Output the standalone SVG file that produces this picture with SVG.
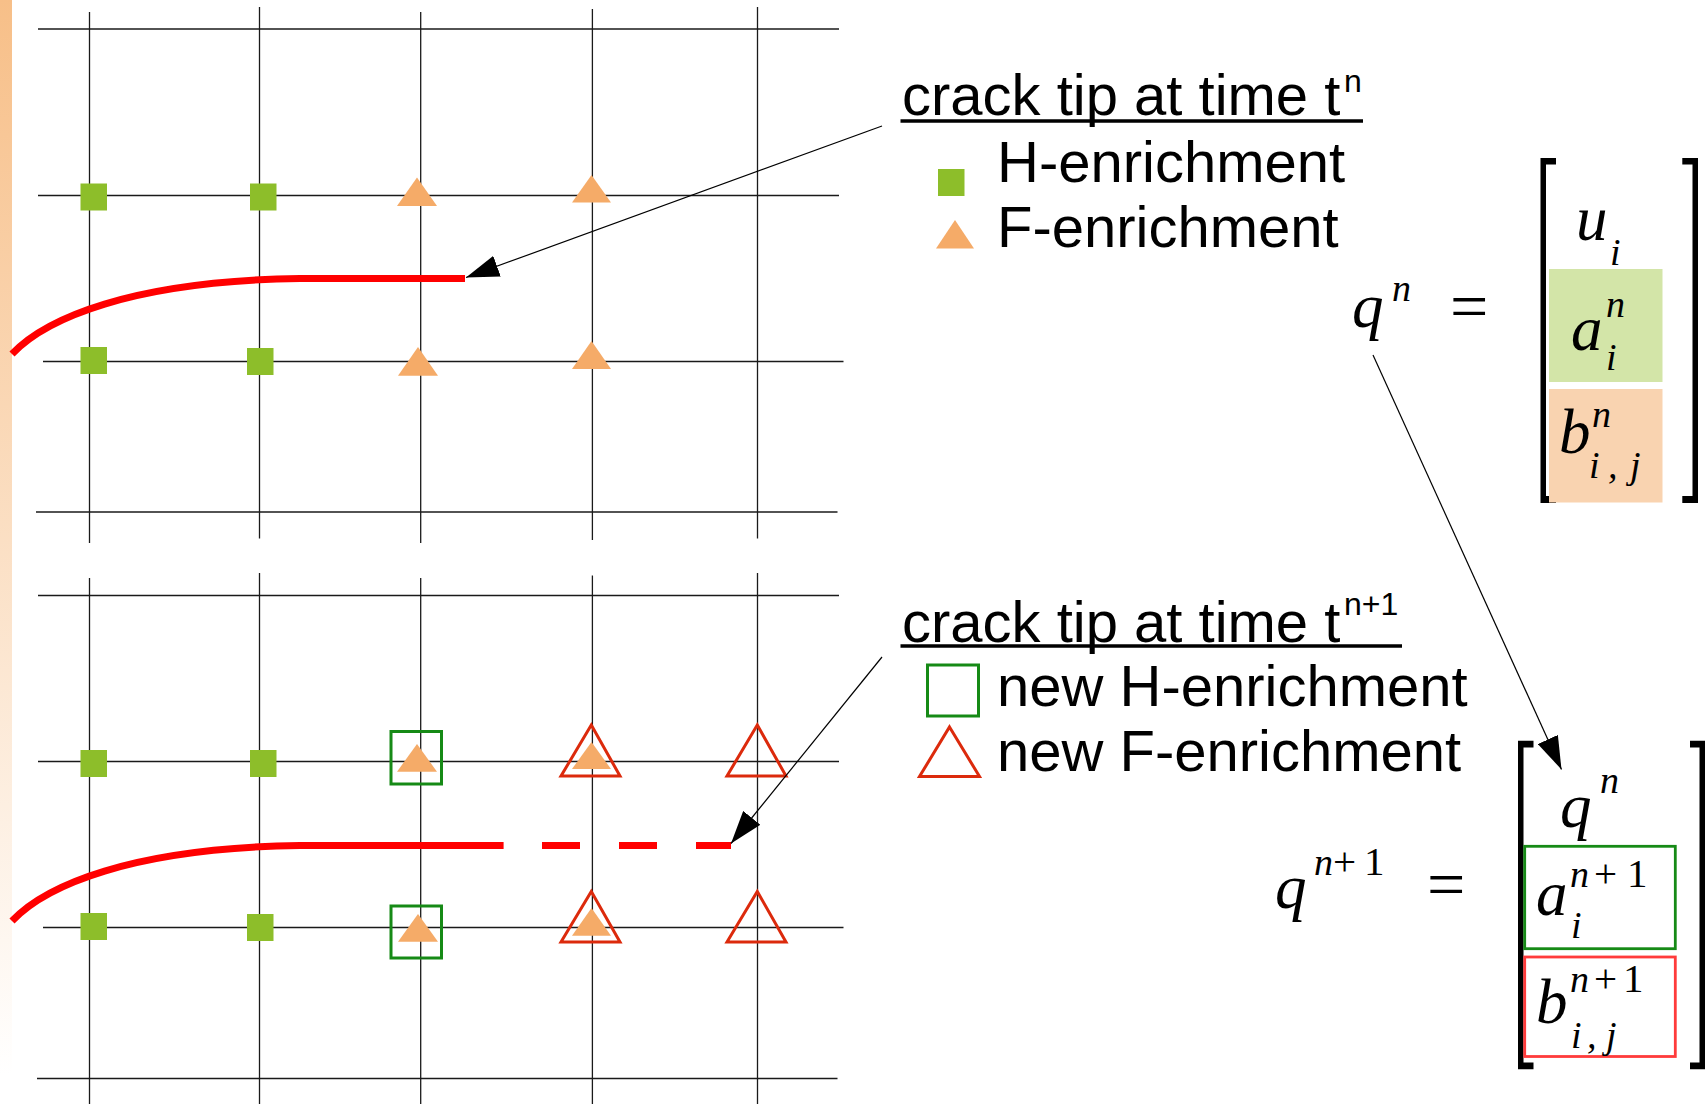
<svg xmlns="http://www.w3.org/2000/svg" width="1708" height="1104" viewBox="0 0 1708 1104">
<style>
.grid line{stroke:#1a1a1a;stroke-width:1.3}
.hsq{fill:#8dbe2a}
.ftri{fill:#f5ab68}
.nsq{fill:none;stroke:#168a16;stroke-width:3}
.ntri{fill:none;stroke:#dc2a0c;stroke-width:3;stroke-linejoin:miter}
.crack{fill:none;stroke:#ff0000;stroke-width:7}
.lbl{font-family:"Liberation Sans",Arial,sans-serif;font-size:58px;fill:#000}
.sup{font-family:"Liberation Sans",Arial,sans-serif;font-size:32px;fill:#000}
.mi{font-family:"Liberation Serif","Times New Roman",serif;font-style:italic;font-size:63px;fill:#000}
.ms{font-family:"Liberation Serif","Times New Roman",serif;font-style:italic;font-size:38px;fill:#000}
.mr{font-family:"Liberation Serif","Times New Roman",serif;font-size:41px;fill:#000}
.eq{font-family:"Liberation Serif","Times New Roman",serif;font-size:68px;fill:#000}
.conn{stroke:#000;stroke-width:1.2;fill:none;marker-end:url(#ah)}
</style>
<defs>
<linearGradient id="bar" x1="0" y1="0" x2="0" y2="1">
<stop offset="0" stop-color="#f7bf88"/>
<stop offset="1" stop-color="#ffffff"/>
</linearGradient>
<marker id="ah" viewBox="0 0 33 22" refX="33" refY="11" markerWidth="33" markerHeight="22" markerUnits="userSpaceOnUse" orient="auto">
<path d="M0,0 L33,11 L0,22 z" fill="#000"/>
</marker>
</defs>

<rect id="side-bar" x="0" y="0" width="12" height="1075" fill="url(#bar)"/>

<g id="grid-top" class="grid">
<line x1="38" y1="29" x2="839" y2="29"/>
<line x1="38" y1="195.5" x2="839" y2="195.5"/>
<line x1="43" y1="361.5" x2="843.5" y2="361.5"/>
<line x1="36" y1="512" x2="837.5" y2="512"/>
<line x1="89.5" y1="12" x2="89.5" y2="543"/>
<line x1="259.5" y1="7" x2="259.5" y2="538.5"/>
<line x1="420.7" y1="12" x2="420.7" y2="543"/>
<line x1="592.4" y1="9" x2="592.4" y2="540"/>
<line x1="757.5" y1="7" x2="757.5" y2="538.5"/>
</g>

<g id="grid-bottom" class="grid">
<line x1="38" y1="595.5" x2="839" y2="595.5"/>
<line x1="38" y1="761.5" x2="839" y2="761.5"/>
<line x1="43" y1="927.5" x2="843.5" y2="927.5"/>
<line x1="37" y1="1078.5" x2="837.5" y2="1078.5"/>
<line x1="89.5" y1="578" x2="89.5" y2="1104"/>
<line x1="259.5" y1="573" x2="259.5" y2="1104"/>
<line x1="420.7" y1="578" x2="420.7" y2="1104"/>
<line x1="592.4" y1="575.6" x2="592.4" y2="1104"/>
<line x1="757.5" y1="573" x2="757.5" y2="1104"/>
</g>

<g id="crack-top">
<path class="crack" d="M12,354 C45,319 130,281 300,278.5 L465,278.5"/>
</g>
<g id="crack-bottom">
<path class="crack" d="M12,921 C45,886 130,848 300,845.5 L503.6,845.5"/>
<path class="crack" d="M542,845.5 L731,845.5" stroke-dasharray="38 39"/>
</g>

<g id="nodes-top">
<rect class="hsq" x="80.5" y="183.5" width="26.5" height="27"/>
<rect class="hsq" x="250" y="183.5" width="26.5" height="27"/>
<rect class="hsq" x="80.5" y="347" width="26.5" height="27"/>
<rect class="hsq" x="247" y="348" width="26.5" height="27"/>
<polygon class="ftri" points="417,177.5 437,206 397,206"/>
<polygon class="ftri" points="591.5,175 611,202.5 572,202.5"/>
<polygon class="ftri" points="418,347 438,375.7 398,375.7"/>
<polygon class="ftri" points="591.5,341 611,369 572,369"/>
</g>

<g id="nodes-bottom">
<rect class="hsq" x="80.5" y="750" width="26.5" height="27"/>
<rect class="hsq" x="250" y="750" width="26.5" height="27"/>
<rect class="hsq" x="80.5" y="913" width="26.5" height="27"/>
<rect class="hsq" x="247" y="914" width="26.5" height="27"/>
<rect class="nsq" x="391" y="731.5" width="50.5" height="52.5"/>
<rect class="nsq" x="391" y="906" width="50.5" height="52"/>
<polygon class="ftri" points="417,744 437,771.7 397,771.7"/>
<polygon class="ftri" points="418,914 438,941.7 398,941.7"/>
<polygon class="ftri" points="591.5,742 611,769 572,769"/>
<polygon class="ftri" points="591.5,908 611,935.8 572,935.8"/>
<polygon class="ntri" points="591.3,725 620,776 561,776"/>
<polygon class="ntri" points="757.3,725 786,776 727,776"/>
<polygon class="ntri" points="591.3,891.5 620,942 561,942"/>
<polygon class="ntri" points="757.3,891.5 786,942 727,942"/>
</g>

<g id="legend-top">
<text class="lbl" x="902" y="115">crack tip at time t</text>
<text class="sup" x="1344" y="92">n</text>
<line x1="900.5" y1="121" x2="1363" y2="121" stroke="#000" stroke-width="3.5"/>
<rect class="hsq" x="938" y="169" width="26.5" height="27"/>
<text class="lbl" x="997" y="182">H-enrichment</text>
<polygon class="ftri" points="955,220 974,248.5 936,248.5"/>
<text class="lbl" x="997" y="247">F-enrichment</text>
</g>

<g id="legend-bottom">
<text class="lbl" x="902" y="641.5">crack tip at time t</text>
<text class="sup" x="1344" y="615">n+1</text>
<line x1="900.5" y1="646" x2="1402" y2="646" stroke="#000" stroke-width="3.5"/>
<rect class="nsq" x="927.5" y="665" width="51" height="51"/>
<text class="lbl" x="997" y="706">new H-enrichment</text>
<polygon class="ntri" points="949.5,727 979.5,776.5 919.5,776.5"/>
<text class="lbl" x="997" y="771">new F-enrichment</text>
</g>

<g id="equation-top">
<text class="mi" x="1352" y="327">q</text>
<text class="ms" x="1392" y="301">n</text>
<text class="eq" x="1450" y="329">=</text>
<path d="M1540.5,158 H1556 V164.5 H1546 V496 H1556 V503 H1540.5 Z" fill="#000"/>
<path d="M1698,158 H1682.3 V164.5 H1692.5 V496 H1682.3 V503 H1698 Z" fill="#000"/>
<rect x="1549" y="269" width="113.5" height="113" fill="#d3e5a8"/>
<rect x="1549" y="389" width="113.5" height="113.5" fill="#f9d3b0"/>
<text class="mi" x="1576" y="240">u</text>
<text class="ms" x="1610" y="265">i</text>
<text class="mi" x="1571" y="350">a</text>
<text class="ms" x="1606" y="317">n</text>
<text class="ms" x="1606" y="370">i</text>
<text class="mi" x="1559" y="453">b</text>
<text class="ms" x="1592" y="427">n</text>
<text class="ms" x="1589" y="478">i</text>
<text class="ms" x="1608" y="478">,</text>
<text class="ms" x="1630" y="478">j</text>
</g>

<g id="equation-bottom">
<text class="mi" x="1275" y="908">q</text>
<text class="ms" x="1314" y="875">n</text>
<text class="mr" x="1333" y="875">+</text>
<text class="mr" x="1364" y="875">1</text>
<text class="eq" x="1427" y="907">=</text>
<path d="M1518,740.7 H1533.5 V747.4 H1523.5 V1062.6 H1533.5 V1069.3 H1518 Z" fill="#000"/>
<path d="M1705,740.7 H1690 V747.4 H1699.5 V1062.6 H1690 V1069.3 H1705 Z" fill="#000"/>
<text class="mi" x="1560" y="827">q</text>
<text class="ms" x="1600" y="793">n</text>
<rect x="1524.7" y="846.3" width="150.6" height="102.4" fill="none" stroke="#168a16" stroke-width="2.8"/>
<rect x="1524.7" y="957" width="150.6" height="99.5" fill="none" stroke="#ff3b3b" stroke-width="2.8"/>
<text class="mi" x="1536" y="915">a</text>
<text class="ms" x="1570" y="886.5">n</text>
<text class="mr" x="1594" y="886.5">+</text>
<text class="mr" x="1627" y="886.5">1</text>
<text class="ms" x="1571" y="938">i</text>
<text class="mi" x="1536" y="1023">b</text>
<text class="ms" x="1570" y="992">n</text>
<text class="mr" x="1594" y="992">+</text>
<text class="mr" x="1623" y="992">1</text>
<text class="ms" x="1571" y="1048">i</text>
<text class="ms" x="1587" y="1048">,</text>
<text class="ms" x="1606" y="1048">j</text>
</g>

<g id="connectors">
<line class="conn" x1="882" y1="126" x2="466" y2="277.5"/>
<line class="conn" x1="882" y1="657" x2="731" y2="843.5"/>
<line class="conn" x1="1373" y1="355" x2="1561.5" y2="769.5"/>
</g>
</svg>
